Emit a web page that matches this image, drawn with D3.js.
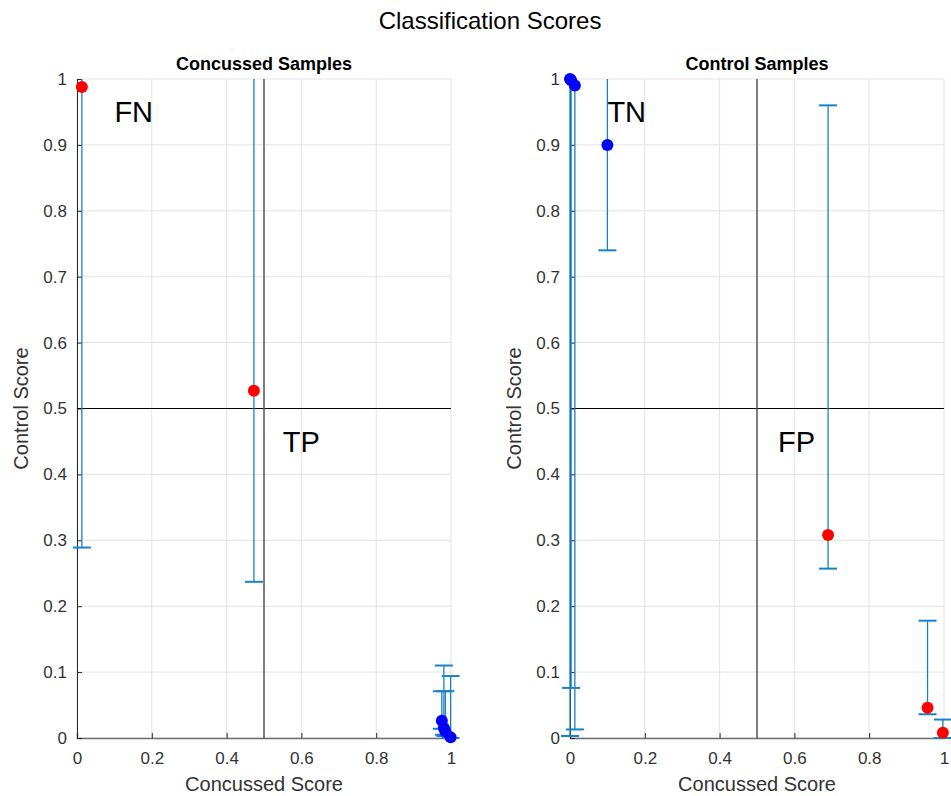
<!DOCTYPE html>
<meta charset="utf-8">
<style>
  body { margin: 0; background: white; }
  svg text { font-family: "Liberation Sans", Arial, sans-serif; }
  .tick text { fill: #333; font-size: 17px; }
  .grid line { stroke: #e3e3e3; stroke-width: 1px; }
  .ebar { stroke: #1a80c8; stroke-width: 1.3px; fill: none; }
</style>
<body>
<script src="https://d3js.org/d3.v7.min.js"></script>
<script>
// concussed samples: x = concussed score, y = control score, lo/hi = error bar ends
var concX  = [0.013, 0.473, 0.9755, 0.981, 0.985, 0.999];
var concY  = [0.988, 0.527, 0.026, 0.015, 0.010, 0.001];
var concLo = [0.289, 0.237, 0.014, 0.005, 0.003, 0.0];
var concHi = [1.2, 1.2, 0.071, 0.110, 0.071, 0.094];
var concCol = ["red", "red", "blue", "blue", "blue", "blue"];

// control samples
var ctrlX  = [0.0, 0.003, 0.013, 0.1, 0.69, 0.956, 0.997];
var ctrlY  = [1.0, 0.998, 0.99, 0.9, 0.308, 0.046, 0.008];
var ctrlLo = [0.003, 0.076, 0.013, 0.740, 0.257, 0.036, 0.0];
var ctrlHi = [1.2, 1.2, 1.2, 1.2, 0.960, 0.178, 0.028];
var ctrlCol = ["blue", "blue", "blue", "blue", "red", "red", "red"];

var xTicks = [0, 0.2, 0.4, 0.6, 0.8, 1];
var yTicks = [0, 0.1, 0.2, 0.3, 0.4, 0.5, 0.6, 0.7, 0.8, 0.9, 1];

var panels = [
  {title: "Concussed Samples", left: 77, x: concX, y: concY, lo: concLo, hi: concHi, col: concCol,
   labels: [{t: "FN", x: 0.1, y: 0.95}, {t: "TP", x: 0.55, y: 0.45}]},
  {title: "Control Samples", left: 570, x: ctrlX, y: ctrlY, lo: ctrlLo, hi: ctrlHi, col: ctrlCol,
   labels: [{t: "TN", x: 0.1, y: 0.95}, {t: "FP", x: 0.556, y: 0.45}]}
];

var W = 951, H = 796;
var plotTop = 79, width = 374, height = 659;

var svg = d3.select("body").append("svg")
    .attr("width", W)
    .attr("height", H);

svg.append("text")
    .attr("x", 490)
    .attr("y", 29)
    .attr("text-anchor", "middle")
    .style("font-size", "24px")
    .style("fill", "#000")
    .text("Classification Scores");

var x = d3.scaleLinear().domain([0, 1]).range([0, width]);
var y = d3.scaleLinear().domain([0, 1]).range([height, 0]);

panels.forEach(function(p, i) {
  var g = svg.append("g").attr("transform", "translate(" + p.left + "," + plotTop + ")");

  // grid
  g.append("g").attr("class", "grid")
    .selectAll("line").data(yTicks).enter().append("line")
    .attr("x1", 0).attr("x2", width)
    .attr("y1", function(d) { return y(d); }).attr("y2", function(d) { return y(d); });
  g.append("g").attr("class", "grid")
    .selectAll("line").data(xTicks).enter().append("line")
    .attr("y1", 0).attr("y2", height)
    .attr("x1", function(d) { return x(d); }).attr("x2", function(d) { return x(d); });

  // axes, ticks pointing inward
  var xAxis = g.append("g")
    .attr("transform", "translate(0," + height + ")")
    .call(d3.axisBottom(x).tickValues(xTicks).tickSize(-5).tickPadding(14)
      .tickFormat(function(d) { return d3.format("")(d); }));
  var yAxis = g.append("g")
    .call(d3.axisLeft(y).tickValues(yTicks).tickSize(-5).tickPadding(10)
      .tickFormat(function(d) { return d3.format("")(d); }));
  [xAxis, yAxis].forEach(function(a) {
    a.select(".domain").attr("stroke", "#262626").attr("stroke-width", 1);
    a.selectAll(".tick line").attr("stroke", "#262626");
  });
  xAxis.select(".domain").attr("stroke", "#6e6e6e").attr("stroke-width", 1.5);

  // threshold lines
  g.append("line")
    .attr("x1", 0).attr("x2", width)
    .attr("y1", y(0.5)).attr("y2", y(0.5))
    .attr("stroke", "#000").attr("stroke-width", 1);
  g.append("line")
    .attr("x1", x(0.5)).attr("x2", x(0.5))
    .attr("y1", 0).attr("y2", height)
    .attr("stroke", "#555").attr("stroke-width", 1.5);

  // error bars clipped at the top of the axes
  svg.append("clipPath").attr("id", "clip" + i)
    .append("rect").attr("x", -30).attr("y", 0).attr("width", width + 60).attr("height", height + 20);
  var eb = g.append("g").attr("clip-path", "url(#clip" + i + ")");
  var idx = d3.range(p.x.length);
  eb.selectAll(".v").data(idx).enter().append("line")
    .attr("class", "ebar")
    .attr("x1", function(d) { return x(p.x[d]); }).attr("x2", function(d) { return x(p.x[d]); })
    .attr("y1", function(d) { return y(p.lo[d]); }).attr("y2", function(d) { return y(p.hi[d]); });
  ["lo", "hi"].forEach(function(k) {
    eb.selectAll(".c" + k).data(idx).enter().append("line")
      .attr("class", "ebar")
      .style("stroke-width", "2px")
      .attr("x1", function(d) { return x(p.x[d]) - 9; }).attr("x2", function(d) { return x(p.x[d]) + 9; })
      .attr("y1", function(d) { return y(p[k][d]); }).attr("y2", function(d) { return y(p[k][d]); });
  });

  // points
  g.selectAll("circle").data(idx).enter().append("circle")
    .attr("cx", function(d) { return x(p.x[d]); })
    .attr("cy", function(d) { return y(p.y[d]); })
    .attr("r", 6)
    .attr("fill", function(d) { return p.col[d] === "red" ? "#ff0000" : "#0000ff"; });

  // quadrant labels
  g.selectAll(".quad").data(p.labels).enter().append("text")
    .attr("x", function(d) { return x(d.x); })
    .attr("y", function(d) { return y(d.y); })
    .attr("dy", "0.35em")
    .style("font-size", "29px")
    .style("fill", "#000")
    .text(function(d) { return d.t; });

  // titles and axis labels
  g.append("text")
    .attr("x", width / 2).attr("y", -9)
    .attr("text-anchor", "middle")
    .style("font-size", "18px").style("font-weight", "bold")
    .text(p.title);
  g.append("text")
    .attr("x", width / 2).attr("y", height + 53)
    .attr("text-anchor", "middle")
    .style("font-size", "20px").style("fill", "#333")
    .text("Concussed Score");
  g.append("text")
    .attr("transform", "translate(-49," + (height / 2) + ") rotate(-90)")
    .attr("text-anchor", "middle")
    .style("font-size", "20px").style("fill", "#333")
    .text("Control Score");
});
</script>
</body>
